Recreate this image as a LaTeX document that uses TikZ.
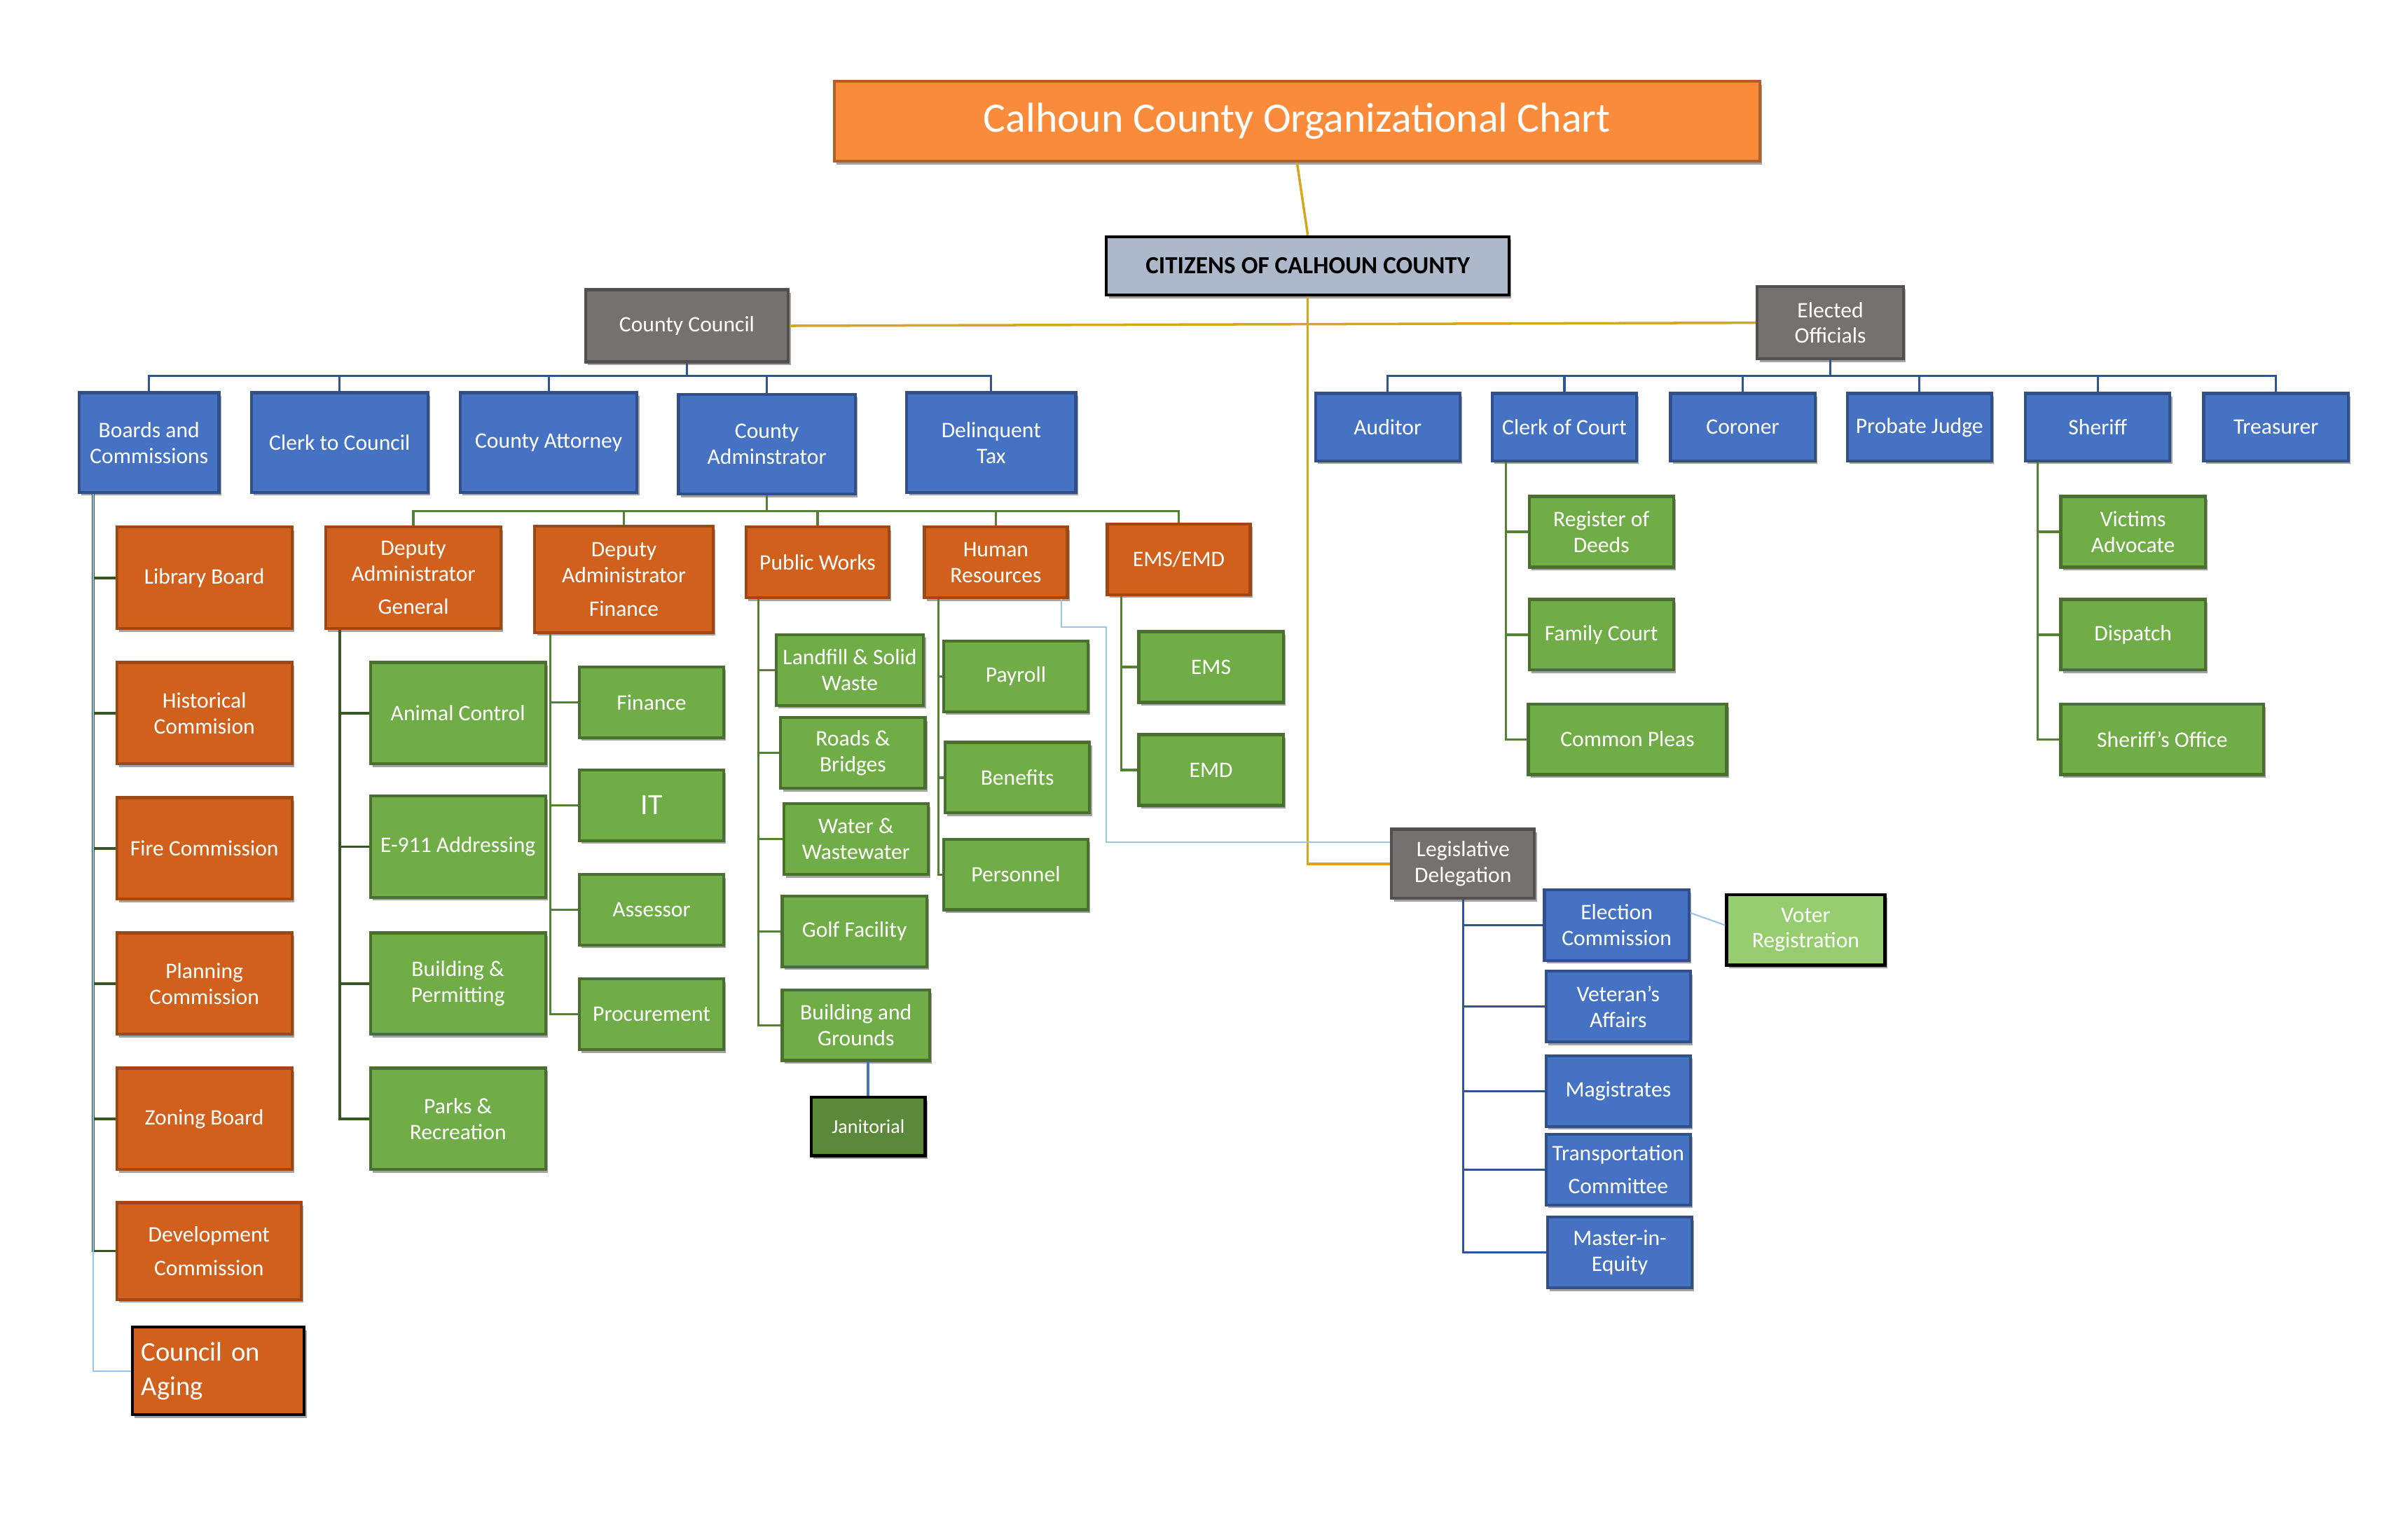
\documentclass[tikz,border=0pt]{standalone}
\usepackage{fontspec}
\setmainfont{Carlito}
\usetikzlibrary{shadows}
\newlength{\pu}\setlength{\pu}{0.021935cm}
\definecolor{obx}{RGB}{209,96,28}
\definecolor{otl}{RGB}{250,139,58}
\definecolor{bbx}{RGB}{70,114,196}
\definecolor{gbx}{RGB}{112,173,71}
\definecolor{gybx}{RGB}{118,113,113}
\definecolor{lgbx}{RGB}{150,205,110}
\definecolor{citz}{RGB}{173,185,202}
\definecolor{gold}{RGB}{214,166,30}
\definecolor{bln}{RGB}{47,85,151}
\definecolor{gln}{RGB}{84,130,53}
\definecolor{dgln}{RGB}{55,86,35}
\definecolor{lbln}{RGB}{157,195,230}
\tikzset{box/.style={rectangle,draw,line width=1.2pt,text=white,align=center,inner sep=1pt,
  minimum width=94\pu,minimum height=46\pu,font=\fontsize{9}{10.5}\selectfont,
  drop shadow={shadow xshift=1.5\pu,shadow yshift=-2\pu,fill=black!45,opacity=.8}}}
\tikzset{obox/.style={box,fill=obx,draw=obx!75!black}}
\tikzset{bbox/.style={box,fill=bbx,draw=bbx!70!black}}
\tikzset{gbox/.style={box,fill=gbx,draw=gbx!65!black}}
\tikzset{gybox/.style={box,fill=gybx,draw=gybx!70!black}}
\tikzset{bline/.style={draw=bln,line width=0.9pt}}
\tikzset{gline/.style={draw=gln,line width=0.9pt}}
\tikzset{dline/.style={draw=dgln,line width=1pt}}
\tikzset{lline/.style={draw=lbln,line width=0.6pt}}
\tikzset{yline/.style={draw=gold,line width=1pt}}
\begin{document}
\begin{tikzpicture}[x=\pu,y=-\pu]
\useasboundingbox (0,0) rectangle (1550,1002);
% top
\node [box,fill=otl,draw=otl!70!black,minimum width=602\pu,minimum height=52\pu,font=\fontsize{17}{20}\selectfont] (ttl) at (844,79) {Calhoun County Organizational Chart};
\node [box,fill=citz,draw=black,text=black,minimum width=262\pu,minimum height=38\pu,font=\fontsize{10}{12}\selectfont\bfseries] (cit) at (851,173) {CITIZENS OF CALHOUN COUNTY};
\node [gybox,minimum width=132\pu,minimum height=47\pu] (cc) at (447,212) {County Council};
\node [gybox,minimum width=95\pu,minimum height=47\pu] (eo) at (1191,210) {Elected\\Officials};
\node [gybox,minimum width=93\pu,minimum height=45\pu] (ld) at (952,562) {Legislative\\Delegation};

% council row
\node [bbox,minimum width=91\pu,minimum height=65\pu] (bc) at (97,288) {Boards and\\Commissions};
\node [bbox,minimum width=115\pu,minimum height=65\pu] (ctc) at (221,288) {Clerk to Council};
\node [bbox,minimum width=115\pu,minimum height=65\pu] (ca) at (357,288) {County Attorney};
\node [bbox,minimum width=115\pu,minimum height=65\pu] (adm) at (499,289) {County\\Adminstrator};
\node [bbox,minimum width=110\pu,minimum height=65\pu] (dt) at (645,288) {Delinquent\\Tax};

% elected row
\node [bbox,minimum height=44\pu] (aud) at (903,278) {Auditor};
\node [bbox,minimum height=44\pu] (coc) at (1018,278) {Clerk of Court};
\node [bbox,minimum height=44\pu] (cor) at (1134,278) {Coroner};
\node [bbox,minimum height=44\pu] (pj) at (1249,278) {Probate Judge};
\node [bbox,minimum height=44\pu] (shf) at (1365,278) {Sheriff};
\node [bbox,minimum height=44\pu] (tre) at (1481,278) {Treasurer};

% boards
\node [obox,minimum width=114\pu,minimum height=66\pu] (lib) at (133,376) {Library Board};
\node [obox,minimum width=114\pu,minimum height=66\pu] (his) at (133,464) {Historical\\Commision};
\node [obox,minimum width=114\pu,minimum height=66\pu] (fc) at (133,552) {Fire Commission};
\node [obox,minimum width=114\pu,minimum height=66\pu] (pc) at (133,640) {Planning\\Commission};
\node [obox,minimum width=114\pu,minimum height=66\pu] (zb) at (133,728) {Zoning Board};
\node [obox,minimum width=120\pu,minimum height=63\pu] (dc) at (136,814) {Development\\[3pt]Commission};
\node [obox,draw=black,minimum width=112\pu,minimum height=57\pu,align=left,text width=100\pu,font=\fontsize{11}{14}\selectfont] (coa) at (142,892) {Council on\\Aging};

% administrator row
\node [obox,minimum width=114\pu,minimum height=66\pu] (dag) at (269,376) {Deputy\\Administrator\\[3pt]General};
\node [obox,minimum width=116\pu,minimum height=69\pu] (daf) at (406,377) {Deputy\\Administrator\\[3pt]Finance};
\node [obox,minimum width=93\pu] (pw) at (532,366) {Public Works};
\node [obox,minimum width=93\pu] (hr) at (648,366) {Human\\Resources};
\node [obox,minimum width=93\pu] (ems) at (767,364) {EMS/EMD};

% deputy general
\node [gbox,minimum width=114\pu,minimum height=66\pu] (ac) at (298,464) {Animal Control};
\node [gbox,minimum width=114\pu,minimum height=66\pu] (e911) at (298,551) {E-911 Addressing};
\node [gbox,minimum width=114\pu,minimum height=66\pu] (bp) at (298,640) {Building \&\\Permitting};
\node [gbox,minimum width=114\pu,minimum height=66\pu] (pr) at (298,728) {Parks \&\\Recreation};

% deputy finance
\node [gbox] (fin) at (424,457) {Finance};
\node [gbox,font=\fontsize{12}{14}\selectfont] (it) at (424,524) {IT};
\node [gbox] (ass) at (424,592) {Assessor};
\node [gbox] (pro) at (424,660) {Procurement};

% public works
\node [gbox,minimum width=96\pu] (lf) at (553,436) {Landfill \& Solid\\Waste};
\node [gbox] (rb) at (555,490) {Roads \&\\Bridges};
\node [gbox] (ww) at (557,546) {Water \&\\Wastewater};
\node [gbox] (gf) at (556,606) {Golf Facility};
\node [gbox,minimum width=96\pu] (bg) at (557,667) {Building and\\Grounds};
\node [gbox,fill=gbx!80!black,draw=black,minimum width=74\pu,minimum height=38\pu,font=\fontsize{8}{10}\selectfont] (jan) at (565,733) {Janitorial};

% human resources
\node [gbox] (pay) at (661,440) {Payroll};
\node [gbox] (ben) at (662,506) {Benefits};
\node [gbox] (per) at (661,569) {Personnel};

% ems
\node [gbox] (em) at (788,434) {EMS};
\node [gbox] (emd) at (788,501) {EMD};

% clerk of court
\node [gbox] (rod) at (1042,346) {Register of\\Deeds};
\node [gbox] (fam) at (1042,413) {Family Court};
\node [gbox,minimum width=129\pu] (cp) at (1059,481) {Common Pleas};

% sheriff
\node [gbox] (va) at (1388,346) {Victims\\Advocate};
\node [gbox] (dis) at (1388,413) {Dispatch};
\node [gbox,minimum width=132\pu] (so) at (1407,481) {Sheriff's Office};

% legislative delegation
\node [bbox] (elc) at (1052,602) {Election\\Commission};
\node [bbox] (vet) at (1053,655) {Veteran's\\Affairs};
\node [bbox] (mag) at (1053,710) {Magistrates};
\node [bbox] (trc) at (1053,761) {Transportation\\[3pt]Committee};
\node [bbox] (mie) at (1054,815) {Master-in-\\Equity};
\node [box,fill=lgbx,draw=black,minimum width=103\pu] (vr) at (1175,605) {Voter\\Registration};

% connectors
\draw [yline] (ttl.south) -- (cit.north);
\draw [yline] (cc.east) -- (eo.west);
\draw [yline] (cit.south) |- (ld.west);
\foreach \c in {bc,ctc,ca,adm,dt} \draw [bline] (cc.south) -- ++(0,8) -| (\c.north);
\foreach \c in {aud,coc,cor,pj,shf,tre} \draw [bline] (eo.south) -- ++(0,10) -| (\c.north);
\foreach \c in {dag,daf,pw,hr,ems} \draw [gline] (adm.south) -- ++(0,10) -| (\c.north);
\foreach \c in {lib,his,fc,pc,zb,dc} \draw [dline] ([xshift=10\pu]bc.south west) |- (\c.west);
\draw [lline] ([xshift=10\pu]bc.south west) |- (coa.west);
\foreach \c in {ac,e911,bp,pr} \draw [dline] ([xshift=10\pu]dag.south west) |- (\c.west);
\foreach \c in {fin,it,ass,pro} \draw [gline] ([xshift=11\pu]daf.south west) |- (\c.west);
\foreach \c in {lf,rb,ww,gf,bg} \draw [gline] ([xshift=9\pu]pw.south west) |- (\c.west);
\foreach \c in {pay,ben,per} \draw [gline] ([xshift=10\pu]hr.south west) |- (\c.west);
\foreach \c in {em,emd} \draw [gline] ([xshift=10\pu]ems.south west) |- (\c.west);
\foreach \c in {rod,fam,cp} \draw [gline] ([xshift=10\pu]coc.south west) |- (\c.west);
\foreach \c in {va,dis,so} \draw [gline] ([xshift=9\pu]shf.south west) |- (\c.west);
\foreach \c in {elc,vet,mag,trc,mie} \draw [bline] (ld.south) |- (\c.west);
\draw [draw=bbx,line width=1.2pt] (bg.south -| jan.north) -- (jan.north);
\draw [lline] ([xshift=-5\pu]hr.south east) -- ++(0,18) -| ([yshift=14\pu]ld.west -| 720,0) -- ([yshift=14\pu]ld.west);
\draw [lline] ([yshift=8\pu]elc.east) -- ([yshift=3\pu]vr.west);
\end{tikzpicture}
\end{document}
